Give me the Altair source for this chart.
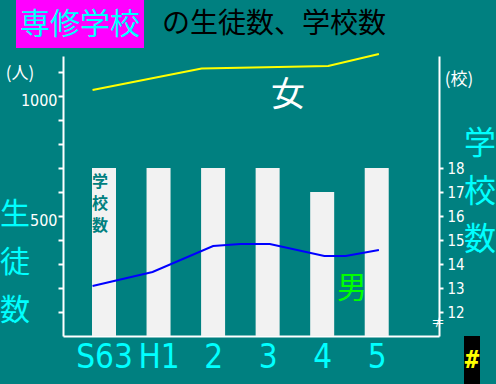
import json
import altair as alt
import pandas as pd

# ---- data ----
years = ["S63", "H1", "2", "3", "4", "5"]
year_pos = [0, 1, 2, 3, 4, 5]
schools = [18, 18, 18, 18, 17, 18]

# student lines (vertices: x in year-slot units, value in persons)
female_x = [-0.21, 1.79, 2.96, 4.11, 5.04]
female_v = [1025, 1115, 1120, 1125, 1175]
male_x = [-0.21, 0.89, 2.0, 2.5, 3.04, 4.04, 4.43, 5.04]
male_v = [208, 267, 375, 383, 383, 333, 333, 358]

left_ticks = [100, 200, 300, 400, 500, 600, 700, 800, 900, 1000, 1100]
right_ticks = [12, 13, 14, 15, 16, 17, 18]

TEAL = "#008080"
CYAN = "#00ffff"
WHITE = "#ffffff"
CJK = "Noto Sans CJK JP"
NUM = "DejaVu Sans Condensed"

bars_df = pd.DataFrame({"pos": year_pos, "schools": schools, "year": years})
lines_df = pd.concat([
    pd.DataFrame({"pos": female_x, "v": female_v, "s": "女"}),
    pd.DataFrame({"pos": male_x, "v": male_v, "s": "男"}),
])

label_expr = json.dumps(years) + "[datum.value]"
xenc = alt.X("pos:Q",
             scale=alt.Scale(domain=[-0.66, 6.05], nice=False, zero=False),
             axis=alt.Axis(values=year_pos, labelExpr=label_expr, title=None,
                           ticks=False, grid=False, domainColor=WHITE, domainWidth=2,
                           labelColor=CYAN, labelFont=NUM, labelFontSize=33,
                           labelPadding=5, labelFlush=False))

bars = alt.Chart(bars_df).mark_bar(size=24, color="#f2f2f2").encode(
    x=xenc,
    y=alt.Y("schools:Q", scale=alt.Scale(domain=[11, 22.667], nice=False, zero=False),
            axis=alt.Axis(orient="right", values=right_ticks, title=None, grid=False,
                          domainColor=WHITE, domainWidth=2, tickColor=WHITE, tickWidth=2,
                          tickSize=4, labelColor=WHITE, labelFont=NUM, labelFontSize=15,
                          labelPadding=4)),
    y2=alt.datum(11),
)

lines = alt.Chart(lines_df).mark_line(strokeWidth=2, clip=False).encode(
    x=xenc,
    y=alt.Y("v:Q", scale=alt.Scale(domain=[0, 1166.7], nice=False, zero=False),
            axis=alt.Axis(orient="left", values=left_ticks, title=None, grid=False,
                          labelExpr="(datum.value == 500 || datum.value == 1000) ? datum.value : ''",
                          domainColor=WHITE, domainWidth=2, tickColor=WHITE, tickWidth=2,
                          tickSize=5, labelColor=WHITE, labelFont=NUM, labelFontSize=16,
                          labelPadding=1, labelOffset=4)),
    color=alt.Color("s:N", scale=alt.Scale(domain=["女", "男"], range=["#ffff00", "#0000ff"]),
                    legend=None),
)


def txt(s, x, y, size, color, font=CJK, align="center", baseline="middle", weight="normal"):
    return alt.Chart(pd.DataFrame({"t": [s]})).mark_text(
        font=font, fontSize=size, color=color, align=align, baseline=baseline,
        fontWeight=weight, clip=False
    ).encode(x=alt.value(x), y=alt.value(y), text="t:N")


def rect(x, x2, y, y2, color):
    return alt.Chart(pd.DataFrame({"a": [0]})).mark_rect(color=color, clip=False).encode(
        x=alt.value(x), x2=alt.value(x2), y=alt.value(y), y2=alt.value(y2))


annos = [
    rect(-47, 81, -56, -8, "#ff00ff"),
    txt("専修学校", 17, -31, 30, CYAN),
    txt("の生徒数、学校数", 99, -31, 28, "#000000", align="left"),
    txt("(人)", -43, 18, 17, WHITE),
    txt("(校)", 396, 24, 17, WHITE),
    txt("女", 225, 40, 34, WHITE),
    txt("男", 289, 233, 30, "#00ff00"),
    txt("≠", 375, 267, 14, WHITE),
    rect(401, 417, 280, 328, "#000000"),
    txt("#", 409, 305, 24, "#ffff00", font="DejaVu Sans Mono", weight="bold"),
]
for i, ch in enumerate("生徒数"):
    annos.append(txt(ch, -48, 159 + 48 * i, 30, CYAN))
for i, ch in enumerate("学校数"):
    annos.append(txt(ch, 417, 88 + 48 * i, 32, CYAN))
for i, (ch, yy) in enumerate(zip("学校数", [126, 148, 170])):
    annos.append(txt(ch, 37, yy, 16, TEAL, weight="bold"))

chart = alt.layer(bars, lines, *annos).resolve_scale(y="independent").properties(
    width=376, height=280,
    autosize="none",
    padding={"left": 63, "top": 56, "right": 57, "bottom": 48},
    background=TEAL,
).configure_view(stroke=None)

chart.save("out.html", embed_options={"renderer": "svg", "actions": False})
